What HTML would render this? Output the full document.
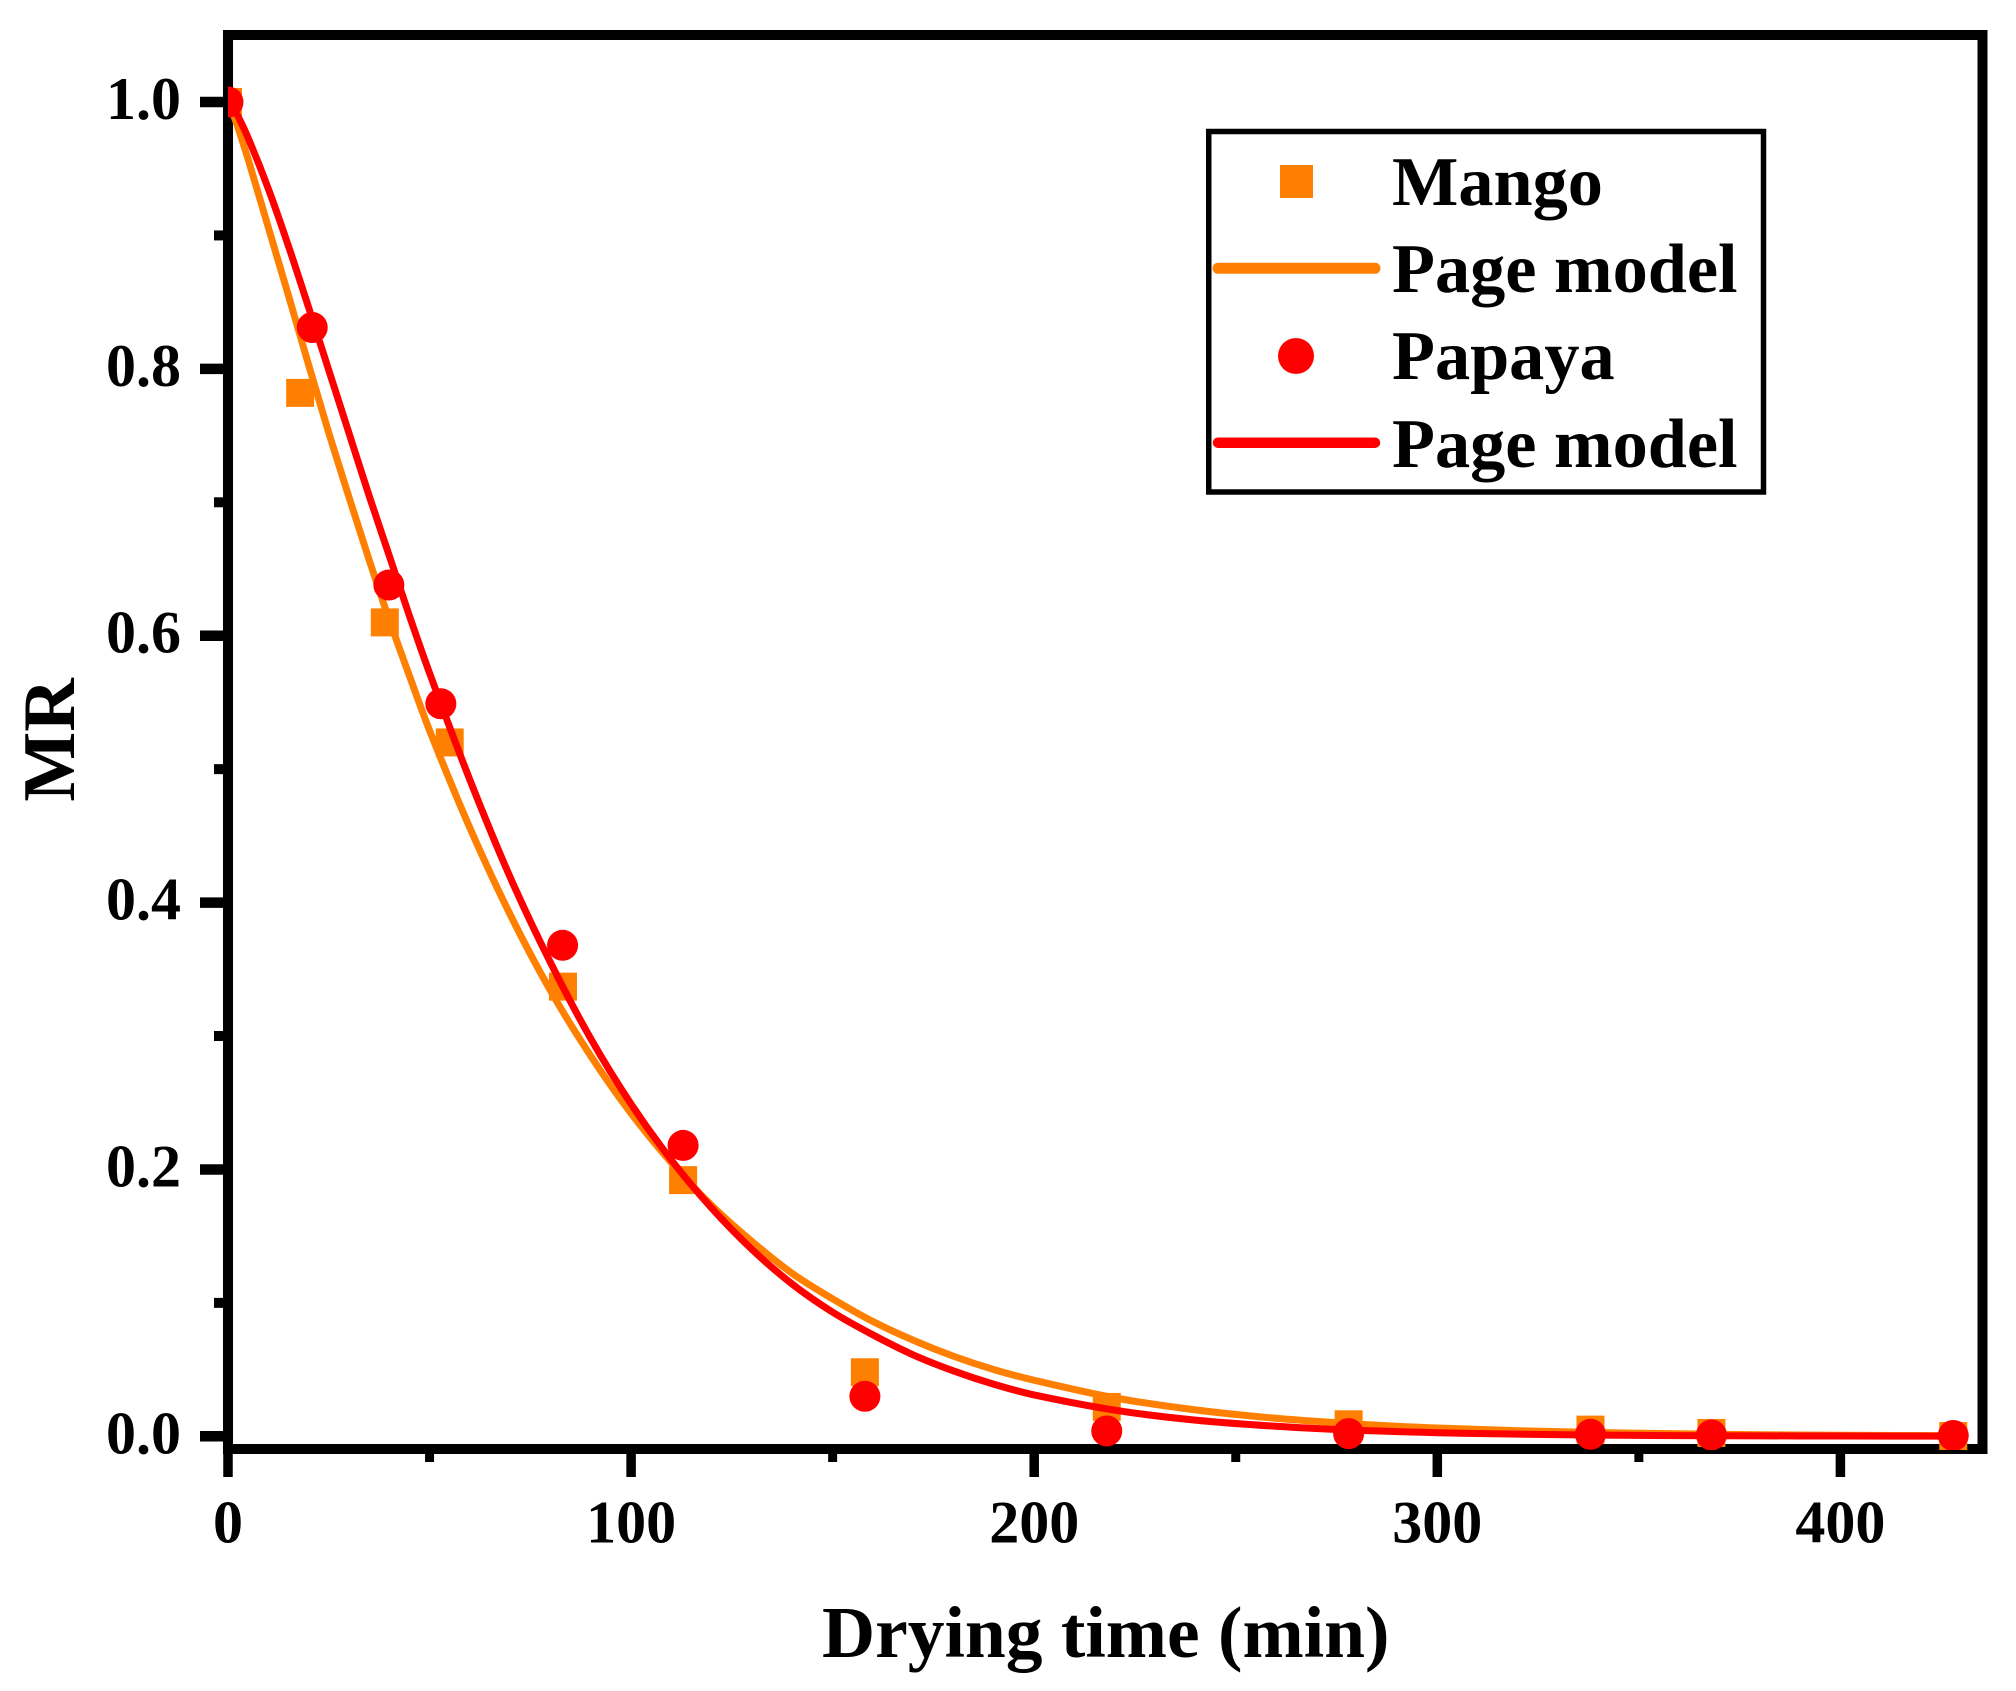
<!DOCTYPE html>
<html lang="en">
<head>
<meta charset="utf-8">
<title>Drying curves of mango and papaya</title>
<style>
html,body{margin:0;padding:0;background:#fff;}
svg{display:block;}
text{font-family:"Liberation Serif","Times New Roman",serif;font-weight:bold;fill:#000;}
</style>
</head>
<body>
<svg id="chart" xmlns="http://www.w3.org/2000/svg" width="2016" height="1691" viewBox="0 0 2016 1691">
  <defs>
    <clipPath id="plot-clip"><rect x="228" y="35" width="1754" height="1415"></rect></clipPath>
  </defs>
  <rect x="0" y="0" width="2016" height="1691" fill="#fff"></rect>
  <g id="axes"></g>
  <g id="series" clip-path="url(#plot-clip)"></g>
  <g id="labels"></g>
  <text transform="translate(74 740) rotate(-90)" text-anchor="middle" font-size="74">MR</text>
  <text x="822" y="1657" font-size="73.5">Drying time (min)</text>
  <g>
    <rect x="1208.75" y="131.5" width="554.75" height="360.5" fill="#fff" stroke="#000" stroke-width="5.5"></rect>
    <rect x="1280" y="165" width="33" height="33" fill="#FF8000"></rect>
    <text x="1392" y="205" font-size="70.3">Mango</text>
    <line x1="1218" y1="268.3" x2="1375" y2="268.3" stroke="#FF8000" stroke-width="11" stroke-linecap="round"></line>
    <text x="1392" y="292" font-size="70.3">Page model</text>
    <circle cx="1296" cy="356" r="18" fill="#FF0000"></circle>
    <text x="1392" y="379" font-size="70.3">Papaya</text>
    <line x1="1218" y1="442.7" x2="1375" y2="442.7" stroke="#FF0000" stroke-width="10.5" stroke-linecap="round"></line>
    <text x="1392" y="467" font-size="70.3">Page model</text>
  </g>
</svg>
<script>
// Axis ticks
const xMajorTicks = [0, 100, 200, 300, 400];
const xMinorTicks = [50, 150, 250, 350];
const yMajorTicks = [0, 0.2, 0.4, 0.6, 0.8, 1.0];
const yMinorTicks = [0.1, 0.3, 0.5, 0.7, 0.9];
const yTickLabels = ['0.0', '0.2', '0.4', '0.6', '0.8', '1.0'];

// Measured points
const mangoTime = [0, 17.9, 38.9, 55, 83.1, 112.9, 158, 218, 278, 338, 368, 428];
const mangoMR = [1.0, 0.782, 0.61, 0.52, 0.337, 0.192, 0.048, 0.022, 0.009, 0.005, 0.0025, 0.0002];
const papayaTime = [0, 20.9, 39.9, 52.8, 83, 112.9, 158, 218, 278, 338, 368, 428];
const papayaMR = [1.0, 0.831, 0.638, 0.549, 0.368, 0.218, 0.03, 0.004, 0.002, 0.0015, 0.001, 0.0006];

// Model curves
const modelTime = [0, 2, 5, 10, 15, 20, 25, 30, 35, 40, 45, 50, 60, 70, 80, 90, 100, 110, 120, 130, 140, 150, 160, 170, 180, 190, 200, 220, 240, 260, 280, 300, 320, 340, 360, 380, 400, 428];
const mangoModelMR = [1.0, 0.985, 0.957, 0.906, 0.855, 0.803, 0.752, 0.704, 0.657, 0.612, 0.57, 0.529, 0.456, 0.391, 0.334, 0.285, 0.242, 0.205, 0.173, 0.146, 0.122, 0.103, 0.086, 0.072, 0.06, 0.05, 0.042, 0.0288, 0.0198, 0.0135, 0.0092, 0.0062, 0.0042, 0.0028, 0.0019, 0.0012, 0.0008, 0.0005];
const papayaModelMR = [1.0, 0.992, 0.973, 0.935, 0.892, 0.846, 0.799, 0.752, 0.705, 0.66, 0.615, 0.572, 0.492, 0.419, 0.355, 0.298, 0.249, 0.207, 0.171, 0.14, 0.114, 0.093, 0.076, 0.061, 0.049, 0.039, 0.031, 0.0196, 0.0121, 0.0075, 0.0045, 0.0027, 0.0016, 0.0009, 0.0005, 0.0003, 0.0002, 0.0001];

const SVG_NS = 'http://www.w3.org/2000/svg';
const xAt = function (t) { return 228 + t * 4.031; };
const yAt = function (v) { return 1436.3 - v * 1334.3; };

function make(tag, parent, props) {
  const el = document.createElementNS(SVG_NS, tag);
  Object.keys(props).forEach(function (k) { el.setAttribute(k, props[k]); });
  parent.appendChild(el);
  return el;
}

const axes = document.getElementById('axes');
const labels = document.getElementById('labels');
const series = document.getElementById('series');

// Frame
const frame = make('rect', axes, { x: 228, y: 35, width: 1754.5, height: 1414, fill: 'none', stroke: '#000', 'stroke-width': 10 });



// Y ticks
yMajorTicks.forEach(function (v, i) {
  const tick = make('line', axes, { x1: 200, x2: 224, y1: yAt(v), y2: yAt(v), stroke: '#000', 'stroke-width': 10.5 });
  
  
  const label = make('text', labels, { x: 181, y: yAt(v) + 17, 'text-anchor': 'end', 'font-size': 60 });
  label.textContent = yTickLabels[i];
  
  
});
yMinorTicks.forEach(function (v) {
  const tick = make('line', axes, { x1: 214, x2: 224, y1: yAt(v), y2: yAt(v), stroke: '#000', 'stroke-width': 10 });
  
  
});

// X ticks
xMajorTicks.forEach(function (t) {
  const tick = make('line', axes, { x1: xAt(t), x2: xAt(t), y1: 1453, y2: 1477, stroke: '#000', 'stroke-width': 9.5 });
  
  
  const label = make('text', labels, { x: xAt(t), y: 1542.5, 'text-anchor': 'middle', 'font-size': 60 });
  label.textContent = String(t);
  
  
});
xMinorTicks.forEach(function (t) {
  const tick = make('line', axes, { x1: xAt(t), x2: xAt(t), y1: 1453, y2: 1462, stroke: '#000', 'stroke-width': 9 });
  
  
});

// Smooth curve through the sampled values (cubic Hermite segments)
function curvePath(times, values) {
  const xs = times.map(xAt);
  const ys = values.map(yAt);
  const n = xs.length;
  const slope = function (i) {
    const a = Math.max(i - 1, 0);
    const b = Math.min(i + 1, n - 1);
    return (ys[b] - ys[a]) / (xs[b] - xs[a]);
  };
  let d = 'M' + xs[0].toFixed(2) + ' ' + ys[0].toFixed(2);
  for (let i = 0; i < n - 1; i++) {
    const h = (xs[i + 1] - xs[i]) / 3;
    d += ' C' + (xs[i] + h).toFixed(2) + ' ' + (ys[i] + slope(i) * h).toFixed(2) +
         ' ' + (xs[i + 1] - h).toFixed(2) + ' ' + (ys[i + 1] - slope(i + 1) * h).toFixed(2) +
         ' ' + xs[i + 1].toFixed(2) + ' ' + ys[i + 1].toFixed(2);
  }
  return d;
}

// Mango markers
mangoTime.forEach(function (t, i) {
  const marker = make('rect', series, { x: xAt(t) - 14, y: yAt(mangoMR[i]) - 14, width: 28, height: 28, fill: '#FF8000' });
  
  
});

// Mango model
const mangoLine = make('path', series, { d: curvePath(modelTime, mangoModelMR), fill: 'none', stroke: '#FF8000', 'stroke-width': 7, 'stroke-linejoin': 'round' });



// Papaya markers
papayaTime.forEach(function (t, i) {
  const marker = make('circle', series, { cx: xAt(t), cy: yAt(papayaMR[i]), r: 15.5, fill: '#FF0000' });
  
  
});

// Papaya model
const papayaLine = make('path', series, { d: curvePath(modelTime, papayaModelMR), fill: 'none', stroke: '#FF0000', 'stroke-width': 7, 'stroke-linejoin': 'round' });


</script>
</body>
</html>
